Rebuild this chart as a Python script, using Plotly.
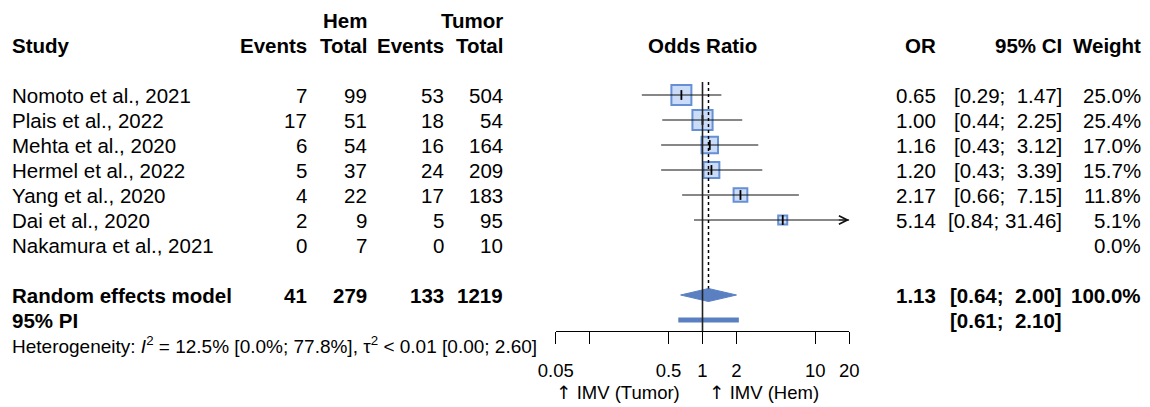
import math
import plotly.graph_objects as go

# ---------------- data ----------------
studies = ["Nomoto et al., 2021", "Plais et al., 2022", "Mehta et al., 2020",
           "Hermel et al., 2022", "Yang et al., 2020", "Dai et al., 2020",
           "Nakamura et al., 2021"]
hem_events = [7, 17, 6, 5, 4, 2, 0]
hem_total = [99, 51, 54, 37, 22, 9, 7]
tum_events = [53, 18, 16, 24, 17, 5, 0]
tum_total = [504, 54, 164, 209, 183, 95, 10]
or_est = [0.65, 1.00, 1.16, 1.20, 2.17, 5.14, None]
ci_lo = [0.29, 0.44, 0.43, 0.43, 0.66, 0.84, None]
ci_hi = [1.47, 2.25, 3.12, 3.39, 7.15, 31.46, None]
weights = [25.0, 25.4, 17.0, 15.7, 11.8, 5.1, 0.0]

re_label = "Random effects model"
re_hem_events, re_hem_total, re_tum_events, re_tum_total = 41, 279, 133, 1219
re_or, re_lo, re_hi, re_weight = 1.13, 0.64, 2.00, 100.0
pi_lo, pi_hi = 0.61, 2.10
het_text = ("Heterogeneity: <i>I</i><sup>2</sup> = 12.5% [0.0%; 77.8%], "
            "τ<sup>2</sup> &lt; 0.01 [0.00; 2.60]")

tick_vals = [0.05, 0.1, 0.5, 1, 2, 10, 20]
tick_text = ["0.05", "", "0.5", "1", "2", "10", "20"]
x_min, x_max = 0.05, 20
label_left = "IMV (Tumor)"
label_right = "IMV (Hem)"
ARROW = "<span style='font-family:DejaVu Sans'>↑</span> "

# ---------------- layout helpers ----------------
W, H = 1150, 407
FONT = "Liberation Sans, Arial, sans-serif"
FS = 20.5
FS_HET = 19
FS_AX = 18.5
row_top_px, row_step_px = 95, 25           # pixel of row 0, spacing
y_lo = -row_top_px / row_step_px
y_hi = (H - row_top_px) / row_step_px
axis_px = 331

def px(x):
    return x / W

def rowpix_to_paper(p):
    return (H - p) / H

NBSP = "\u00a0"
def fmt_ci(lo, hi):
    lo_s = f"{lo:.2f}"
    hi_s = f"{hi:.2f}"
    pad = NBSP * (5 - len(hi_s))
    return f"[{lo_s};{NBSP}{pad}{hi_s}]"

col_study = 10
col_hev = 309
col_htot = 369
col_tev = 446
col_ttot = 505
col_or = 938
col_ci = 1064
col_w = 1143

re_row = len(studies) + 1
pi_row = re_row + 1
het_row = pi_row + 1
hdr_row = -2
hdr2_row = -3

BLUE = "#5b80c2"
fig = go.Figure()

# squares (study estimates)
idx = [i for i in range(len(studies)) if or_est[i] is not None]
fig.add_trace(go.Scatter(
    x=[or_est[i] for i in idx], y=idx, mode="markers",
    marker=dict(symbol="square", size=[4 * math.sqrt(weights[i]) for i in idx],
                color="#cadcf7", opacity=1,
                line=dict(color="#6690d3", width=2)),
    hoverinfo="skip", showlegend=False, cliponaxis=False))

# CI lines
for i in idx:
    hi = min(ci_hi[i], x_max)
    fig.add_trace(go.Scatter(x=[ci_lo[i], hi], y=[i, i], mode="lines",
                             line=dict(color="#111111", width=1.2),
                             hoverinfo="skip", showlegend=False))

# point-estimate ticks
fig.add_trace(go.Scatter(
    x=[or_est[i] for i in idx], y=idx, mode="markers",
    marker=dict(symbol="line-ns", size=7, line=dict(color="black", width=1.8)),
    hoverinfo="skip", showlegend=False, cliponaxis=False))

# diamond
dh = 6.5 / row_step_px
fig.add_trace(go.Scatter(
    x=[re_lo, re_or, re_hi, re_or, re_lo],
    y=[re_row, re_row - dh, re_row, re_row + dh, re_row],
    mode="lines", fill="toself", fillcolor=BLUE,
    line=dict(color=BLUE, width=1), hoverinfo="skip", showlegend=False))

# prediction interval bar
fig.add_trace(go.Scatter(x=[pi_lo, pi_hi], y=[pi_row, pi_row], mode="lines",
                         line=dict(color=BLUE, width=5),
                         hoverinfo="skip", showlegend=False))

# reference line at OR = 1
ref_top = (82 - row_top_px) / row_step_px
ref_bot = (axis_px - row_top_px) / row_step_px
fig.add_trace(go.Scatter(x=[1, 1], y=[ref_top, ref_bot], mode="lines",
                         line=dict(color="#222222", width=1.6),
                         hoverinfo="skip", showlegend=False))
# dotted line at pooled estimate
fig.add_trace(go.Scatter(x=[re_or, re_or], y=[ref_top, re_row - dh], mode="lines",
                         line=dict(color="black", width=1.5, dash="dot"),
                         hoverinfo="skip", showlegend=False))

ann = []
def txt(xp, row, s, anchor, bold=False, size=FS, xref="paper"):
    if bold:
        s = f"<b>{s}</b>"
    ann.append(dict(x=xp, y=row, xref=xref, yref="y", text=s, showarrow=False,
                    xanchor=anchor, yanchor="middle",
                    font=dict(family=FONT, size=size, color="black")))

# headers
txt(px(col_htot), hdr2_row, "Hem", "right", True)
txt(px(col_ttot), hdr2_row, "Tumor", "right", True)
txt(px(col_study), hdr_row, "Study", "left", True)
txt(px(col_hev), hdr_row, "Events", "right", True)
txt(px(col_htot), hdr_row, "Total", "right", True)
txt(px(col_tev), hdr_row, "Events", "right", True)
txt(px(col_ttot), hdr_row, "Total", "right", True)
txt(0, hdr_row, "Odds Ratio", "center", True, xref="x")
txt(px(col_or), hdr_row, "OR", "right", True)
txt(px(col_ci), hdr_row, "95% CI", "right", True)
txt(px(col_w), hdr_row, "Weight", "right", True)

for i, s in enumerate(studies):
    txt(px(col_study), i, s, "left")
    txt(px(col_hev), i, str(hem_events[i]), "right")
    txt(px(col_htot), i, str(hem_total[i]), "right")
    txt(px(col_tev), i, str(tum_events[i]), "right")
    txt(px(col_ttot), i, str(tum_total[i]), "right")
    if or_est[i] is not None:
        txt(px(col_or), i, f"{or_est[i]:.2f}", "right")
        txt(px(col_ci), i, fmt_ci(ci_lo[i], ci_hi[i]), "right")
    txt(px(col_w), i, f"{weights[i]:.1f}%", "right")

txt(px(col_study), re_row, re_label, "left", True)
txt(px(col_hev), re_row, str(re_hem_events), "right", True)
txt(px(col_htot), re_row, str(re_hem_total), "right", True)
txt(px(col_tev), re_row, str(re_tum_events), "right", True)
txt(px(col_ttot), re_row, str(re_tum_total), "right", True)
txt(px(col_or), re_row, f"{re_or:.2f}", "right", True)
txt(px(col_ci), re_row, fmt_ci(re_lo, re_hi), "right", True)
txt(px(col_w), re_row, f"{re_weight:.1f}%", "right", True)

txt(px(col_study), pi_row, "95% PI", "left", True)
txt(px(col_ci), pi_row, fmt_ci(pi_lo, pi_hi), "right", True)

txt(px(col_study), het_row, het_text, "left", size=FS_HET)

# axis direction labels
lab_row = (392 - row_top_px) / row_step_px
txt(px(682), lab_row, ARROW + label_left, "right", size=FS_AX)
txt(px(707), lab_row, ARROW + label_right, "left", size=FS_AX)

# arrow for truncated CI
for i in idx:
    if ci_hi[i] > x_max:
        ann.append(dict(x=math.log10(x_max), y=i, xref="x", yref="y",
                        ax=-12, ay=0, axref="pixel", ayref="pixel", text="",
                        showarrow=True, arrowhead=5, arrowsize=1.4,
                        arrowwidth=1.2, arrowcolor="#111111"))

fig.update_layout(
    width=W, height=H, margin=dict(l=0, r=0, t=0, b=0, pad=0, autoexpand=False),
    paper_bgcolor="white", plot_bgcolor="white",
    showlegend=False, annotations=ann,
    xaxis=dict(type="log", range=[math.log10(x_min), math.log10(x_max)],
               domain=[555.7 / W, 849.3 / W], anchor="free",
               position=rowpix_to_paper(axis_px), automargin=False,
               showline=True, linecolor="black", linewidth=1.2,
               ticks="outside", ticklen=12, tickwidth=1.2, tickcolor="black",
               tickvals=tick_vals, ticktext=tick_text, ticklabelstandoff=11,
               tickfont=dict(family=FONT, size=FS_AX, color="black"),
               showgrid=False, zeroline=False),
    yaxis=dict(range=[y_hi, y_lo], domain=[0, 1], visible=False,
               automargin=False, showgrid=False, zeroline=False),
)

fig.write_html("out.html", config={"displayModeBar": False},
               post_script="document.body.style.margin='0px';"
                           "document.body.style.overflow='hidden';")
